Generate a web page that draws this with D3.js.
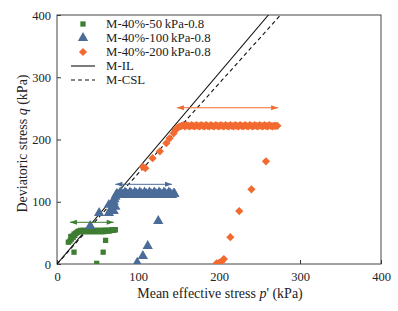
<!DOCTYPE html>
<html>
<head>
<meta charset="utf-8">
<script src="https://cdn.jsdelivr.net/npm/d3@7"></script>
<style>
  body { margin: 0; background: #fff; }
  svg text { font-family: "Liberation Serif", "Times New Roman", Times, "DejaVu Serif", serif !important; fill: #222; }
</style>
</head>
<body>
<div id="chart"></div>
<script>
// M-40%-50kPa-0.8 (green squares)
const greenP = [49, 57, 60, 21, 14, 16, 18, 17, 19, 20, 22, 21, 23, 24, 25, 26, 27, 28, 29, 30, 31, 32, 33, 34, 35, 36, 37, 38, 39, 40, 41, 42, 43, 44, 45, 46, 47, 48, 49, 50, 51, 52, 53, 54, 55, 56, 57, 58, 59, 60, 61, 62, 63, 64, 65, 66, 67, 68, 69, 70, 71, 72];
const greenQ = [1, 19, 38, 19, 35, 37, 40, 44, 45, 43, 46, 48, 49, 50, 51, 52, 53, 52, 54, 53, 52, 54, 53, 52, 54, 53, 52, 54, 53, 52, 54, 53, 52, 54, 53, 52, 54, 53, 52, 54, 53, 52, 54, 53, 52, 54, 53, 52, 54, 54, 53, 54, 53, 54, 53, 54, 54, 55, 54, 55, 55, 55];

// M-40%-100kPa-0.8 (blue triangles)
const blueP = [99, 106, 112, 125, 41, 52, 64, 64, 67, 69, 70, 71, 70, 72, 72, 73, 74, 76, 78, 80, 82, 84, 86, 88, 90, 92, 94, 96, 98, 100, 102, 104, 106, 108, 110, 112, 114, 116, 118, 120, 122, 124, 126, 128, 130, 132, 134, 136, 138, 140, 142, 144, 145];
const blueQ = [2, 13, 29, 69, 61, 82, 82, 95, 88, 96, 100, 104, 85, 92, 108, 111, 113, 111, 115, 113, 111, 115, 113, 111, 115, 113, 111, 115, 113, 111, 115, 113, 111, 115, 113, 111, 115, 113, 111, 115, 113, 111, 115, 113, 111, 115, 113, 111, 115, 113, 111, 113, 113];

// M-40%-200kPa-0.8 (orange diamonds)
const orangeP = [197, 200, 203, 206, 214, 225, 240, 258, 106, 109, 118, 127, 135, 139, 144, 146, 148, 150, 152, 154, 156, 158, 160, 162, 164, 166, 168, 170, 172, 174, 176, 178, 180, 182, 184, 186, 188, 190, 192, 194, 196, 198, 200, 202, 204, 206, 208, 210, 212, 214, 216, 218, 220, 222, 224, 226, 228, 230, 232, 234, 236, 238, 240, 242, 244, 246, 248, 250, 252, 254, 256, 258, 260, 262, 264, 266, 268, 270, 272];
const orangeQ = [1, 2, 4, 8, 43, 85, 120, 165, 156, 154, 170, 181, 194, 202, 210, 215, 218, 220, 221, 222, 223, 221, 223, 222, 221, 223, 222, 221, 223, 222, 221, 223, 222, 221, 223, 222, 221, 223, 222, 221, 223, 222, 221, 223, 222, 221, 223, 222, 221, 223, 222, 221, 223, 222, 221, 223, 222, 221, 223, 222, 221, 223, 222, 221, 223, 222, 221, 223, 222, 221, 223, 222, 221, 223, 222, 221, 222, 222, 222];

// M-IL and M-CSL lines (end points)
const ilP = [0, 261];
const ilQ = [0, 400];
const cslP = [0, 276];
const cslQ = [0, 400];

// double arrows: p range and q level
const arrowP = [[16, 70], [72, 142], [148, 273]];
const arrowQ = [67, 128, 251];

const ticks = [0, 100, 200, 300, 400];
const names = ["M-40%-50\u2009kPa-0.8", "M-40%-100\u2009kPa-0.8", "M-40%-200\u2009kPa-0.8", "M-IL", "M-CSL"];
const colors = ["#3e7e33", "#4b6c98", "#f26a30"];

const W = 398, H = 311;
const margin = { top: 15, right: 17, bottom: 47, left: 57 };
const width = W - margin.left - margin.right;
const height = H - margin.top - margin.bottom;
const serif = "'Liberation Serif', 'Times New Roman', Times, 'DejaVu Serif', serif";

const svg = d3.select("#chart").append("svg")
    .attr("width", W)
    .attr("height", H)
    .attr("font-family", serif);

svg.append("defs").append("clipPath").attr("id", "clip")
  .append("rect").attr("width", width).attr("height", height);

const g = svg.append("g")
    .attr("transform", `translate(${margin.left},${margin.top})`);

const x = d3.scaleLinear().domain([0, 400]).range([0, width]);
const y = d3.scaleLinear().domain([0, 400]).range([height, 0]);

// axes (ticks point inward)
const xAxis = g.append("g")
    .attr("transform", `translate(0,${height})`)
    .call(d3.axisBottom(x).tickValues(ticks).tickSizeInner(-4).tickSizeOuter(0).tickPadding(8));
const yAxis = g.append("g")
    .call(d3.axisLeft(y).tickValues(ticks).tickSizeInner(-4).tickSizeOuter(0).tickPadding(6));
[xAxis, yAxis].forEach(a => {
  a.attr("font-family", serif).attr("font-size", 12.5);
  a.select(".domain").remove();
  a.selectAll("line").attr("stroke", "#333");
  a.selectAll("text").attr("fill", "#222");
});

// frame
g.append("rect")
    .attr("width", width)
    .attr("height", height)
    .attr("fill", "none")
    .attr("stroke", "#444")
    .attr("stroke-width", 1);

// axis titles
const xt = svg.append("text")
    .attr("x", margin.left + width / 2 + 1)
    .attr("y", 298)
    .attr("text-anchor", "middle")
    .style("font-size", "14px");
xt.append("tspan").text("Mean effective stress ");
xt.append("tspan").style("font-style", "italic").text("p");
xt.append("tspan").text("' (kPa)");

const yt = svg.append("text")
    .attr("transform", `translate(27,${margin.top + height / 2 + 4}) rotate(-90)`)
    .attr("text-anchor", "middle")
    .style("font-size", "14px");
yt.append("tspan").text("Deviatoric stress ");
yt.append("tspan").style("font-style", "italic").text("q");
yt.append("tspan").text(" (kPa)");

const plot = g.append("g").attr("clip-path", "url(#clip)");

// reference lines
const line = d3.line().x(d => x(d[0])).y(d => y(d[1]));
plot.append("path")
    .attr("d", line(d3.zip(ilP, ilQ)))
    .attr("stroke", "#111").attr("stroke-width", 1.1).attr("fill", "none");
plot.append("path")
    .attr("d", line(d3.zip(cslP, cslQ)))
    .attr("stroke", "#111").attr("stroke-width", 1.1).attr("fill", "none")
    .attr("stroke-dasharray", "4,3");

// markers
const symSquare = d3.symbol().type(d3.symbolSquare).size(28);
const symTri = d3.symbol().type(d3.symbolTriangle).size(46);
const symDiamond = d3.symbol().type(d3.symbolSquare).size(34);

plot.selectAll(".green").data(d3.zip(greenP, greenQ)).enter().append("path")
    .attr("transform", d => `translate(${x(d[0])},${y(d[1])})`)
    .attr("d", symSquare).attr("fill", colors[0]);

plot.selectAll(".blue").data(d3.zip(blueP, blueQ)).enter().append("path")
    .attr("transform", d => `translate(${x(d[0])},${y(d[1])})`)
    .attr("d", symTri).attr("fill", colors[1]);

plot.selectAll(".orange").data(d3.zip(orangeP, orangeQ)).enter().append("path")
    .attr("transform", d => `translate(${x(d[0])},${y(d[1])}) rotate(45)`)
    .attr("d", symDiamond).attr("fill", colors[2]);

// double-headed arrows
arrowP.forEach((r, i) => {
  const yy = y(arrowQ[i]);
  const x0 = x(r[0]), x1 = x(r[1]);
  const c = colors[i];
  plot.append("line")
      .attr("x1", x0).attr("x2", x1).attr("y1", yy).attr("y2", yy)
      .attr("stroke", c).attr("stroke-width", 1);
  plot.append("path")
      .attr("d", `M${x0},${yy} l7,-2.5 l0,5 Z`).attr("fill", c);
  plot.append("path")
      .attr("d", `M${x1},${yy} l-7,-2.5 l0,5 Z`).attr("fill", c);
});

// legend
const legend = g.append("g");
const rowY = [9, 23, 37, 51, 65];
names.forEach((n, i) => {
  const row = legend.append("g").attr("transform", `translate(0,${rowY[i]})`);
  if (i === 0) row.append("path").attr("transform", "translate(26,0)").attr("d", symSquare).attr("fill", colors[0]);
  if (i === 1) row.append("path").attr("transform", "translate(26,0)").attr("d", symTri).attr("fill", colors[1]);
  if (i === 2) row.append("path").attr("transform", "translate(26,0) rotate(45)").attr("d", symDiamond).attr("fill", colors[2]);
  if (i === 3) row.append("line").attr("x1", 14).attr("x2", 38).attr("stroke", "#111").attr("stroke-width", 1.1);
  if (i === 4) row.append("line").attr("x1", 14).attr("x2", 38).attr("stroke", "#111").attr("stroke-width", 1.1).attr("stroke-dasharray", "4,3");
  row.append("text")
      .attr("x", 49)
      .attr("y", 4)
      .style("font-size", "12.8px")
      .text(n);
});
</script>
</body>
</html>
